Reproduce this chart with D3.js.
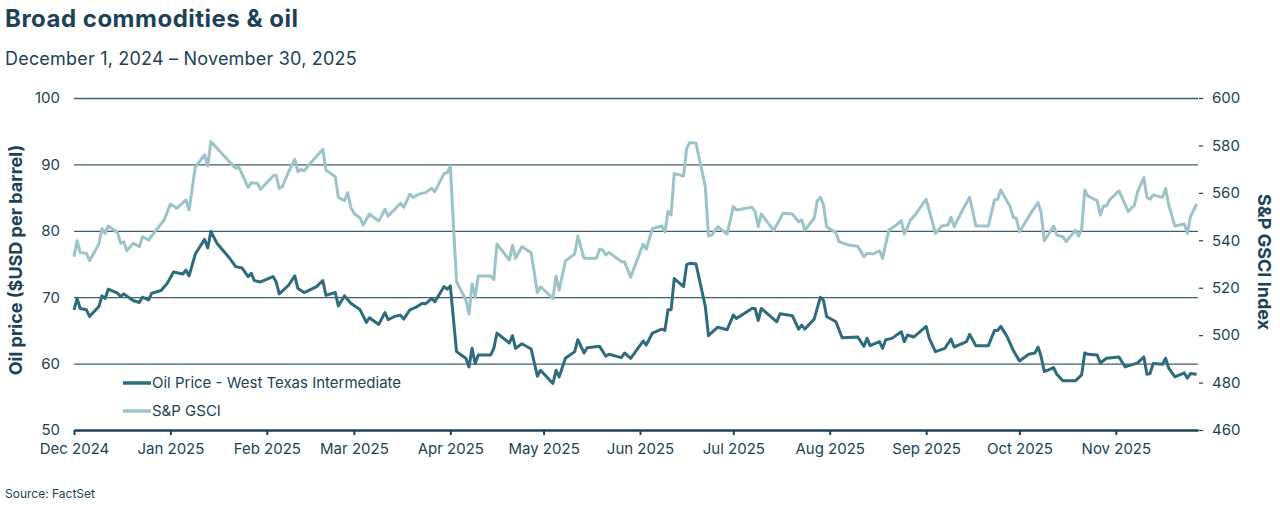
<!DOCTYPE html>
<html><head><meta charset="utf-8">
<script src="https://cdn.jsdelivr.net/npm/d3@7"></script>
<style>
body{margin:0;background:#fff;}
svg text{font-family:Inter,"Noto Sans",sans-serif;}
</style>
</head><body>
<svg id="c" width="1280" height="506"></svg>
<script>
const oilDates = ["2024-12-01","2024-12-02","2024-12-03","2024-12-05","2024-12-06","2024-12-09","2024-12-10","2024-12-11","2024-12-12","2024-12-15","2024-12-16","2024-12-17","2024-12-20","2024-12-22","2024-12-23","2024-12-25","2024-12-26","2024-12-29","2024-12-31",
"2025-01-02","2025-01-05","2025-01-06","2025-01-07","2025-01-09","2025-01-12","2025-01-13","2025-01-14","2025-01-16","2025-01-20","2025-01-22","2025-01-24","2025-01-26","2025-01-27","2025-01-28","2025-01-30",
"2025-02-03","2025-02-04","2025-02-05","2025-02-08","2025-02-10","2025-02-11","2025-02-13","2025-02-17","2025-02-19","2025-02-20","2025-02-23","2025-02-24","2025-02-26","2025-02-28",
"2025-03-03","2025-03-05","2025-03-06","2025-03-09","2025-03-11","2025-03-12","2025-03-14","2025-03-16","2025-03-17","2025-03-19","2025-03-21","2025-03-23","2025-03-24","2025-03-26","2025-03-27","2025-03-30","2025-03-31",
"2025-04-01","2025-04-03","2025-04-06","2025-04-07","2025-04-08","2025-04-09","2025-04-10","2025-04-14","2025-04-15","2025-04-16","2025-04-20","2025-04-21","2025-04-22","2025-04-24","2025-04-27","2025-04-29","2025-04-30",
"2025-05-04","2025-05-05","2025-05-06","2025-05-08","2025-05-11","2025-05-12","2025-05-14","2025-05-15","2025-05-19","2025-05-21","2025-05-22","2025-05-26","2025-05-27","2025-05-29",
"2025-06-02","2025-06-03","2025-06-05","2025-06-08","2025-06-09","2025-06-10","2025-06-11","2025-06-12","2025-06-15","2025-06-16","2025-06-17","2025-06-19","2025-06-22","2025-06-23","2025-06-26","2025-06-29",
"2025-07-01","2025-07-02","2025-07-07","2025-07-08","2025-07-09","2025-07-10","2025-07-15","2025-07-16","2025-07-20","2025-07-22","2025-07-23","2025-07-24","2025-07-27","2025-07-29","2025-07-30","2025-07-31",
"2025-08-03","2025-08-05","2025-08-10","2025-08-12","2025-08-13","2025-08-14","2025-08-17","2025-08-18","2025-08-19","2025-08-21","2025-08-24","2025-08-25","2025-08-26","2025-08-28",
"2025-09-01","2025-09-02","2025-09-04","2025-09-07","2025-09-09","2025-09-10","2025-09-14","2025-09-15","2025-09-17","2025-09-21","2025-09-23","2025-09-24","2025-09-25","2025-09-27","2025-09-29",
"2025-10-01","2025-10-04","2025-10-06","2025-10-07","2025-10-08","2025-10-09","2025-10-12","2025-10-13","2025-10-15","2025-10-19","2025-10-21","2025-10-22","2025-10-23","2025-10-26","2025-10-27","2025-10-29",
"2025-11-02","2025-11-04","2025-11-08","2025-11-10","2025-11-11","2025-11-12","2025-11-13","2025-11-16","2025-11-17","2025-11-18","2025-11-20","2025-11-23","2025-11-24","2025-11-25","2025-11-27"];
const oilValues = [68.1,69.8,68.3,68.1,67.1,68.6,70.2,69.8,71.2,70.6,70.1,70.5,69.5,69.2,70.0,69.6,70.6,71.0,72.1,
73.8,73.5,74.1,73.2,76.5,78.7,77.4,79.9,78.1,75.9,74.6,74.4,73.1,73.6,72.5,72.3,
73.1,72.3,70.5,71.8,73.2,71.3,70.7,71.6,72.5,70.3,70.7,68.7,70.2,69.1,
68.1,66.2,66.9,65.9,67.7,66.6,67.1,67.3,66.7,68.1,68.5,69.1,69.0,69.8,69.3,71.6,71.2,
71.7,61.8,60.8,59.5,62.3,60.0,61.3,61.3,62.3,64.6,63.1,64.2,62.3,63.0,62.2,58.1,59.0,
57.0,59.0,58.0,60.8,61.8,63.6,61.6,62.4,62.6,61.1,61.4,60.9,61.6,60.8,
63.4,62.8,64.6,65.2,65.0,68.1,68.1,72.8,71.6,74.9,75.1,75.0,68.6,64.2,65.5,65.1,
67.3,66.8,68.3,68.3,66.5,68.3,66.3,67.5,67.2,65.2,65.8,65.2,66.7,70.0,69.5,67.1,
66.3,63.9,64.0,62.6,63.8,62.7,63.3,62.3,63.6,63.8,64.8,63.3,64.3,64.0,
65.6,63.8,61.8,62.3,63.7,62.5,63.3,64.4,62.7,62.7,65.0,65.0,65.6,64.1,62.0,
60.4,61.4,61.6,62.5,61.0,58.8,59.4,58.4,57.4,57.4,58.3,61.6,61.4,61.3,60.1,60.8,
61.0,59.5,60.1,61.0,58.4,58.5,60.0,59.9,60.8,59.3,58.0,58.6,57.8,58.5,58.4];

const gsciDates = ["2024-12-01","2024-12-02","2024-12-03","2024-12-05","2024-12-06","2024-12-09","2024-12-10","2024-12-11","2024-12-12","2024-12-15","2024-12-16","2024-12-17","2024-12-18","2024-12-20","2024-12-22","2024-12-23","2024-12-25","2024-12-27","2024-12-30",
"2025-01-01","2025-01-03","2025-01-06","2025-01-07","2025-01-09","2025-01-12","2025-01-13","2025-01-14","2025-01-16","2025-01-21","2025-01-22","2025-01-23","2025-01-26","2025-01-27","2025-01-29","2025-01-30",
"2025-02-03","2025-02-04","2025-02-05","2025-02-06","2025-02-08","2025-02-10","2025-02-11","2025-02-12","2025-02-13","2025-02-15","2025-02-19","2025-02-20","2025-02-23","2025-02-24","2025-02-26","2025-02-27","2025-02-28",
"2025-03-01","2025-03-03","2025-03-04","2025-03-06","2025-03-09","2025-03-11","2025-03-12","2025-03-16","2025-03-17","2025-03-19","2025-03-20","2025-03-22","2025-03-24","2025-03-26","2025-03-27","2025-03-30","2025-03-31",
"2025-04-01","2025-04-03","2025-04-06","2025-04-07","2025-04-08","2025-04-09","2025-04-10","2025-04-14","2025-04-15","2025-04-16","2025-04-20","2025-04-21","2025-04-22","2025-04-24","2025-04-27","2025-04-29","2025-04-30",
"2025-05-04","2025-05-05","2025-05-06","2025-05-08","2025-05-11","2025-05-12","2025-05-14","2025-05-18","2025-05-19","2025-05-20","2025-05-21","2025-05-22","2025-05-26","2025-05-27","2025-05-29",
"2025-06-02","2025-06-03","2025-06-05","2025-06-08","2025-06-09","2025-06-10","2025-06-11","2025-06-12","2025-06-15","2025-06-16","2025-06-17","2025-06-19","2025-06-22","2025-06-23","2025-06-24","2025-06-26","2025-06-29",
"2025-07-01","2025-07-02","2025-07-07","2025-07-08","2025-07-09","2025-07-10","2025-07-14","2025-07-17","2025-07-20","2025-07-22","2025-07-23","2025-07-24","2025-07-27","2025-07-28","2025-07-29","2025-07-30","2025-07-31",
"2025-08-03","2025-08-04","2025-08-07","2025-08-10","2025-08-11","2025-08-12","2025-08-13","2025-08-15","2025-08-17","2025-08-18","2025-08-20","2025-08-22","2025-08-24","2025-08-25","2025-08-27","2025-08-28",
"2025-09-01","2025-09-04","2025-09-06","2025-09-08","2025-09-09","2025-09-10","2025-09-13","2025-09-15","2025-09-17","2025-09-21","2025-09-23","2025-09-24","2025-09-25","2025-09-28","2025-09-29","2025-09-30",
"2025-10-01","2025-10-05","2025-10-07","2025-10-08","2025-10-09","2025-10-12","2025-10-13","2025-10-15","2025-10-16","2025-10-19","2025-10-20","2025-10-21","2025-10-22","2025-10-23","2025-10-26","2025-10-27","2025-10-28","2025-10-29","2025-10-30",
"2025-11-02","2025-11-05","2025-11-07","2025-11-08","2025-11-10","2025-11-11","2025-11-12","2025-11-13","2025-11-16","2025-11-17","2025-11-18","2025-11-20","2025-11-23","2025-11-24","2025-11-25","2025-11-27"];
const gsciValues = [533.1,539.8,534.8,534.5,531.4,538.4,545.0,542.9,546.0,543.2,538.7,539.4,535.6,538.7,537.3,541.5,540.1,543.6,548.6,
555.3,553.5,557.0,552.8,570.8,576.0,571.3,581.6,578.8,571.7,570.4,570.8,562.3,564.3,564.0,561.5,
567.1,567.5,561.9,562.6,568.9,574.1,568.9,569.9,569.3,572.5,578.4,569.6,566.8,558.1,556.7,560.1,553.9,
551.4,549.3,546.4,551.1,548.1,553.1,550.2,555.6,553.9,559.5,558.1,559.5,560.1,561.9,560.5,568.2,568.5,
571.3,522.5,514.8,508.9,521.6,516.2,524.9,524.9,523.5,538.4,531.7,538.0,532.4,537.3,534.8,517.9,520.4,
515.5,524.9,519.0,531.3,534.2,541.8,532.4,532.4,536.2,535.9,533.8,534.9,531.0,531.0,524.4,
538.4,536.2,545.0,546.0,543.6,552.1,550.7,568.2,567.1,578.8,581.2,580.9,562.6,541.8,542.2,545.7,542.6,
554.2,552.8,553.9,552.1,545.7,551.1,544.1,551.4,551.1,547.8,548.6,544.3,549.3,556.7,558.1,554.9,545.7,
543.2,539.4,538.0,537.5,535.2,533.1,534.5,534.2,535.6,532.4,544.3,546.0,548.3,542.6,548.6,550.0,
557.3,542.9,546.0,546.4,549.7,545.7,553.5,558.1,546.0,546.0,557.0,557.3,561.2,554.2,549.7,549.3,
543.6,552.1,555.9,551.4,539.8,546.0,542.2,541.5,539.4,544.3,541.8,544.6,561.2,558.7,556.7,550.7,554.5,554.5,557.0,
560.9,552.1,554.9,560.5,566.5,558.1,557.3,559.1,558.1,561.9,554.9,546.0,546.9,542.9,550.0,555.3];

const monthTicks = ["2024-12-01","2025-01-01","2025-02-01","2025-03-01","2025-04-01","2025-05-01","2025-06-01","2025-07-01","2025-08-01","2025-09-01","2025-10-01","2025-11-01"];
const leftTicks = [50,60,70,80,90,100];
const rightTicks = [460,480,500,520,540,560,580,600];
const seriesNames = ["Oil Price - West Texas Intermediate","S&P GSCI"];

const ink = "#1d4257";
const oilColor = "#2e6b7c";
const gsciColor = "#9bc3c8";
const parse = d3.timeParse("%Y-%m-%d");

const L = 74, R = 1198, T = 98, B = 430;
const x = d3.scaleTime().domain([parse("2024-12-01"), new Date(2025,10,27,10)]).range([L, R]);
const yL = d3.scaleLinear().domain([50,100]).range([B, T]);
const yR = d3.scaleLinear().domain([460,600]).range([B, T]);

const svg = d3.select("#c");

svg.append("text").attr("x",5).attr("y",27).attr("fill",ink).attr("font-size",24).attr("font-weight",700).attr("letter-spacing",0.5).text("Broad commodities & oil");
svg.append("text").attr("x",5).attr("y",65).attr("fill",ink).attr("font-size",18).attr("letter-spacing",0.2).text("December 1, 2024 – November 30, 2025");

// left axis + gridlines
const gl = svg.append("g").attr("transform",`translate(${L},0)`)
  .call(d3.axisLeft(yL).tickValues(leftTicks).tickSize(-(R-L)).tickPadding(14).tickFormat(d3.format("d")));
gl.select(".domain").remove();
gl.selectAll(".tick line").attr("stroke","#3f5d70").attr("stroke-width",1.3).filter(d=>d===50).remove();
gl.selectAll(".tick text").attr("fill",ink).attr("font-size",15);

// right axis
const gr = svg.append("g").attr("transform",`translate(${R+1},0)`)
  .call(d3.axisRight(yR).tickValues(rightTicks).tickSize(4).tickPadding(9).tickFormat(d3.format("d")));
gr.select(".domain").remove();
gr.selectAll(".tick line").attr("stroke",ink).attr("stroke-width",1.2);
gr.selectAll(".tick text").attr("fill",ink).attr("font-size",15);

// bottom axis
const gx = svg.append("g").attr("transform",`translate(0,${B})`)
  .call(d3.axisBottom(x).tickValues(monthTicks.map(parse)).tickSize(5).tickSizeOuter(0).tickPadding(8).tickFormat(d3.timeFormat("%b %Y")));
gx.select(".domain").attr("stroke",ink).attr("stroke-width",2.5);
gx.selectAll(".tick line").attr("stroke",ink).attr("stroke-width",2);
gx.selectAll(".tick text").attr("fill",ink).attr("font-size",15);

// axis titles
svg.append("text").attr("transform","translate(22,260) rotate(-90)").attr("text-anchor","middle")
  .attr("fill",ink).attr("font-size",18).attr("font-weight",700).text("Oil price ($USD per barrel)");
svg.append("text").attr("transform","translate(1258,262) rotate(90)").attr("text-anchor","middle")
  .attr("fill",ink).attr("font-size",18).attr("font-weight",700).text("S&P GSCI Index");

// lines
const gsciData = gsciDates.map((d,i)=>({date:parse(d), v:gsciValues[i]}));
const oilData = oilDates.map((d,i)=>({date:parse(d), v:oilValues[i]}));
svg.append("path").datum(gsciData).attr("fill","none").attr("stroke",gsciColor).attr("stroke-width",3).attr("stroke-linejoin","round")
  .attr("d", d3.line().x(d=>x(d.date)).y(d=>yR(d.v)));
svg.append("path").datum(oilData).attr("fill","none").attr("stroke",oilColor).attr("stroke-width",3).attr("stroke-linejoin","round")
  .attr("d", d3.line().x(d=>x(d.date)).y(d=>yL(d.v)));

// legend
const lg = svg.append("g");
[[oilColor,383],[gsciColor,411]].forEach((c,i)=>{
  lg.append("line").attr("x1",123).attr("x2",151).attr("y1",c[1]).attr("y2",c[1]).attr("stroke",c[0]).attr("stroke-width",3.5);
  lg.append("text").attr("x",152).attr("y",c[1]+5).attr("fill",ink).attr("font-size",15).text(seriesNames[i]);
});

svg.append("text").attr("x",5).attr("y",498).attr("fill",ink).attr("font-size",12).text("Source: FactSet");
</script>
</body></html>
